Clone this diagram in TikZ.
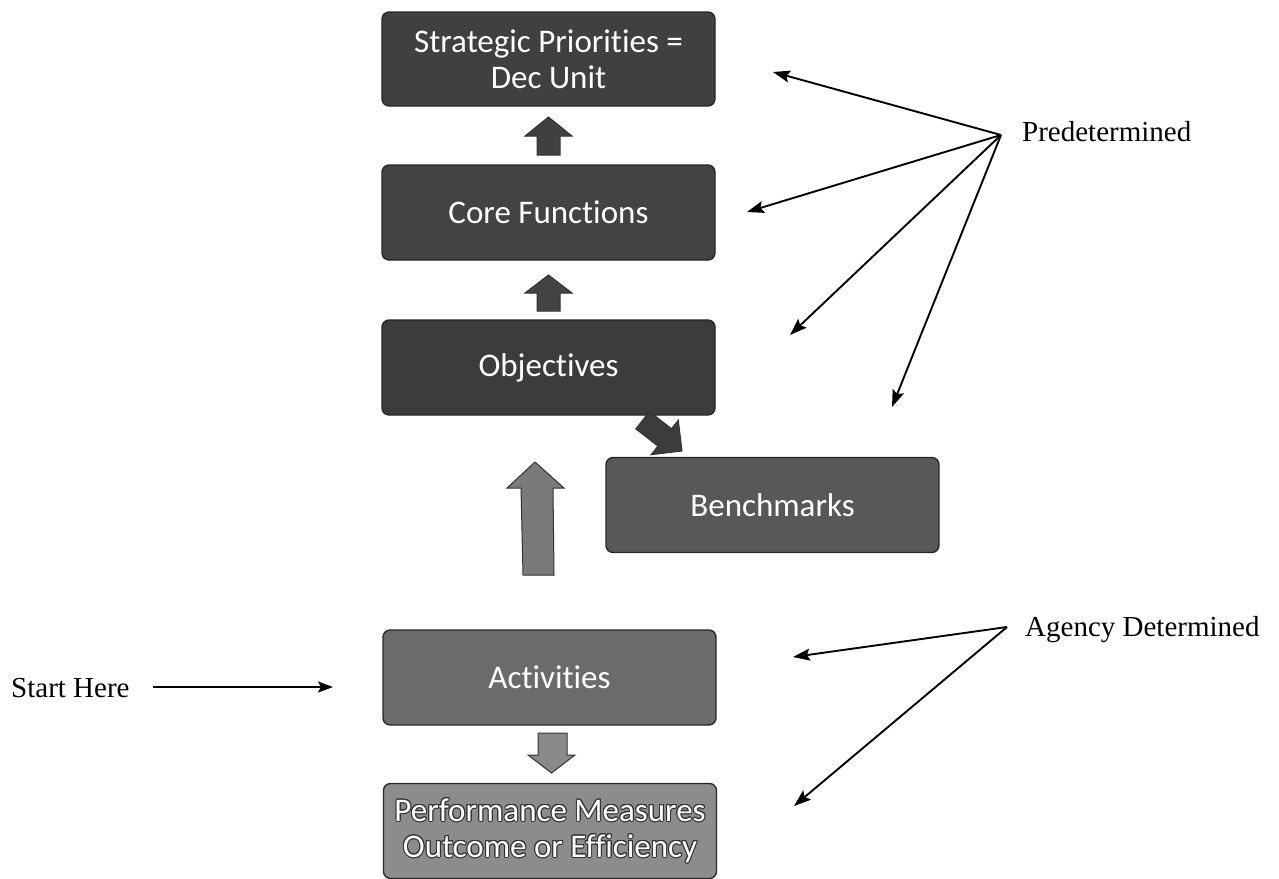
\documentclass[tikz,border=0pt]{standalone}
\usepackage{fontspec}
\setmainfont{Liberation Serif}
\newfontfamily\boxfont[Ligatures=NoCommon]{Carlito}
\usepackage[copies]{contour}
\contourlength{1pt}
\usetikzlibrary{arrows.meta}
\definecolor{cstrat}{HTML}{404040}
\definecolor{ccore}{HTML}{434343}
\definecolor{cobj}{HTML}{3C3C3C}
\definecolor{cbench}{HTML}{585858}
\definecolor{cact}{HTML}{6B6B6B}
\definecolor{cperf}{HTML}{8C8C8C}
\definecolor{cbig}{HTML}{7A7A7A}
\definecolor{cdown}{HTML}{8A8A8A}
\begin{document}
\begin{tikzpicture}[x=1pt,y=-1pt,
  box/.style={draw=black!85, line width=1.3pt, rounded corners=7pt,
    minimum width=333pt, minimum height=95pt, text=white, align=center,
    inner sep=0pt, font=\boxfont\fontsize{33}{36}\selectfont},
  lbl/.style={font=\fontsize{29}{34}\selectfont, inner sep=0pt},
  pointer/.style={line width=1.9pt, -{Stealth[length=17pt,width=12pt,inset=3pt]}},
  blk/.style={draw=black!80, line width=1pt}]
\useasboundingbox (0,0) rectangle (1279,878);

% boxes
\node[box, fill=cstrat, minimum height=94pt] (strat) at (548.5,59) {Strategic Priorities =\\Dec Unit};
\node[box, fill=ccore] (core) at (548.5,212.5) {Core Functions};
\node[box, fill=cobj] (obj) at (548.5,367.5) {Objectives};
\node[box, fill=cbench] (bench) at (772.5,505) {Benchmarks};
\node[box, fill=cact] (act) at (549.5,677.5) {Activities};
\node[box, fill=cperf] (perf) at (550,831) {\contour{black!80}{Performance Measures}\\\contour{black!80}{Outcome or Efficiency}};

% block arrows
\draw[blk, fill=cstrat] (548.5,117) -- (572,136) -- (560,136) -- (560,155) -- (537,155) -- (537,136) -- (525,136) -- cycle;
\draw[blk, fill=ccore] (548.5,275) -- (572,293) -- (560,293) -- (560,311) -- (537,311) -- (537,293) -- (525,293) -- cycle;
\draw[blk, fill=cobj] (649.4,411.5) -- (635.8,428.9) -- (657.9,446.1) -- (651.1,454.7) -- (682,451) -- (678.3,420.1) -- (671.5,428.7) -- cycle;
\draw[blk, fill=cbig] (535,462) -- (564,488) -- (553,488) -- (554,575) -- (523,575) -- (521,488) -- (507,488) -- cycle;
\draw[blk, fill=cdown] (538,733) -- (567,733) -- (567,755) -- (575,755) -- (551.5,773) -- (528,755) -- (538,755) -- cycle;

% labels
\node[lbl, anchor=base west] (predet) at (1022,141) {Predetermined};
\node[lbl, anchor=base west] (agency) at (1025,636) {Agency Determined};
\node[lbl, anchor=base west] (start) at (11,697) {Start Here};

% pointer arrows
\coordinate (hubP) at (1001,135);
\coordinate (p1) at (773,72);
\coordinate (p2) at (747,212);
\coordinate (p3) at (790,335);
\coordinate (p4) at (892,407);
\draw[pointer] (hubP) -- (p1);
\draw[pointer] (hubP) -- (p2);
\draw[pointer] (hubP) -- (p3);
\draw[pointer] (hubP) -- (p4);

\coordinate (hubA) at (1007,627);
\coordinate (a1) at (793,657);
\coordinate (a2) at (794,806);
\draw[pointer] (hubA) -- (a1);
\draw[pointer] (hubA) -- (a2);

\coordinate (s0) at (153,687);
\coordinate (s1) at (333,687);
\draw[line width=1.8pt, -{Stealth[length=15pt,width=11pt,inset=3pt]}] (s0) -- (s1);
\end{tikzpicture}
\end{document}
